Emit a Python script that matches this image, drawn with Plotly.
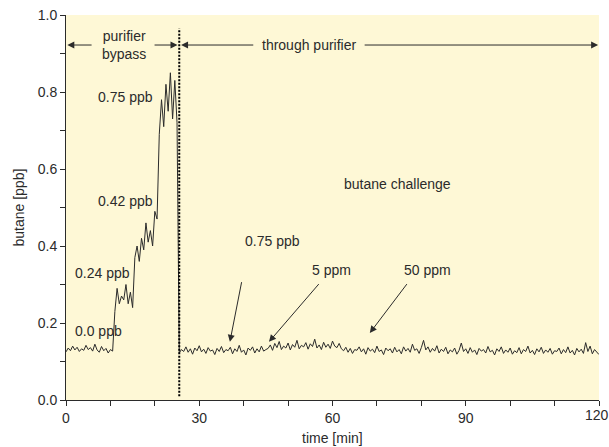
import plotly.graph_objects as go


SAMPLE_STEP = 0.5  # minutes between readings
SWITCH_TIME = 25.5  # bypass -> purifier

# butane readings [ppb], one every 0.5 min
bypass_zero = [0.125, 0.135, 0.128, 0.140, 0.130, 0.137, 0.126, 0.133, 0.129, 0.142, 0.131,
               0.136, 0.127, 0.145, 0.130, 0.124, 0.139, 0.128, 0.134, 0.122, 0.131, 0.127]
bypass_024 = [0.23, 0.29, 0.25, 0.27, 0.26, 0.30, 0.25, 0.28, 0.24]
bypass_042 = [0.37, 0.40, 0.36, 0.42, 0.39, 0.46, 0.41, 0.44, 0.40, 0.49, 0.47]
bypass_075 = [0.69, 0.78, 0.71, 0.82, 0.75, 0.85, 0.73, 0.83, 0.72]
purifier = [
    0.122, 0.131, 0.126, 0.138, 0.124, 0.133, 0.119, 0.135, 0.128, 0.141, 0.125, 0.132, 0.121, 0.136, 0.127, 0.130, 0.118, 0.134, 0.126, 0.139,
    0.123, 0.131, 0.128, 0.137, 0.120, 0.133, 0.126, 0.142, 0.124, 0.130, 0.117, 0.135, 0.129, 0.138, 0.122, 0.133, 0.125, 0.140, 0.127, 0.131,
    0.134, 0.143, 0.129, 0.147, 0.136, 0.152, 0.131, 0.140, 0.135, 0.148, 0.130, 0.144, 0.137, 0.155, 0.133, 0.142, 0.138,
    0.149, 0.132, 0.146, 0.139, 0.158, 0.135, 0.143, 0.131, 0.150, 0.137, 0.145, 0.134, 0.153, 0.140, 0.136, 0.147, 0.133,
    0.128, 0.137, 0.124, 0.134, 0.121, 0.131, 0.129, 0.138, 0.125, 0.133, 0.119, 0.136, 0.127, 0.132, 0.123, 0.140, 0.126, 0.130,
    0.118, 0.135, 0.128, 0.133, 0.122, 0.137, 0.125, 0.131, 0.120, 0.138, 0.127, 0.134, 0.124, 0.145, 0.129, 0.133, 0.121, 0.136,
    0.155, 0.130, 0.138, 0.124, 0.134, 0.127, 0.141, 0.122, 0.132, 0.126, 0.137, 0.120, 0.130, 0.125, 0.135, 0.119, 0.129, 0.148, 0.126, 0.133,
    0.121, 0.136, 0.124, 0.130, 0.118, 0.134, 0.127, 0.131, 0.122, 0.139, 0.125, 0.129, 0.117, 0.133, 0.126, 0.138, 0.121, 0.130, 0.124, 0.135,
    0.119, 0.128, 0.123, 0.136, 0.120, 0.131, 0.126, 0.140, 0.122, 0.129, 0.118, 0.133, 0.125, 0.137, 0.121, 0.130, 0.124, 0.134, 0.119, 0.128,
    0.126, 0.135, 0.120, 0.131, 0.123, 0.138, 0.122, 0.129, 0.117, 0.134, 0.125, 0.132, 0.121, 0.149, 0.126, 0.140, 0.120, 0.131, 0.124, 0.118,
]

x_ticks = [0, 30, 60, 90, 120]
y_ticks = [0.0, 0.2, 0.4, 0.6, 0.8, 1.0]

# text labels: (text, time, level)
labels = [
    ("0.75 ppb", 13.5, 0.787),
    ("0.42 ppb", 13.5, 0.517),
    ("0.24 ppb", 8.3, 0.33),
    ("0.0 ppb", 7.3, 0.179),
    ("butane challenge", 74.7, 0.561),
    ("purifier<br>bypass", 13.0, 0.922),
    ("through purifier", 54.9, 0.922),
]
# challenge arrows: (text, text time, text level, tail time, tail level, tip time, tip level)
challenges = [
    ("0.75 ppb", 46.4, 0.413, 39.6, 0.31, 36.9, 0.151),
    ("5 ppm", 59.7, 0.338, 57.2, 0.305, 45.7, 0.151),
    ("50 ppm", 81.3, 0.338, 77.0, 0.305, 68.4, 0.174),
]
# double arrows at the top: (tail time, tip time)
span_level = 0.922
spans = [(6.1, 0.3), (19.6, 25.1), (42.5, 25.9), (66.9, 119.8)]

butane = bypass_zero + bypass_024 + bypass_042 + bypass_075 + purifier
times = [i * SAMPLE_STEP for i in range(len(butane))]

FONT = "Liberation Sans, Arial, sans-serif"
INK = "#2b2b2b"

fig = go.Figure(
    data=go.Scatter(x=times, y=butane, mode="lines",
                    line=dict(color=INK, width=1), hoverinfo="skip")
)

fig.add_shape(type="line", x0=SWITCH_TIME, x1=SWITCH_TIME, y0=0.01, y1=0.965,
              line=dict(color="black", width=2, dash="2px,1.5px"))

arrow_style = dict(text="", showarrow=True, arrowhead=2, arrowsize=1.4,
                   arrowwidth=1, arrowcolor=INK, axref="x", ayref="y")

annotations = []
for text, x, y in labels:
    annotations.append(dict(x=x, y=y, text=text, showarrow=False))
for text, tx, ty, ax, ay, hx, hy in challenges:
    annotations.append(dict(x=tx, y=ty, text=text, showarrow=False))
    annotations.append(dict(x=hx, y=hy, ax=ax, ay=ay, **arrow_style))
for tail, tip in spans:
    annotations.append(dict(x=tip, y=span_level, ax=tail, ay=span_level, **arrow_style))

# last x tick label sits at the page edge, nudge it inwards
annotations.append(dict(x=x_ticks[-1], y=0, yref="paper", text=str(x_ticks[-1]),
                        showarrow=False, yanchor="top", yshift=-5, xshift=-2))

# axis titles
annotations.append(dict(x=0.5, y=-0.099, xref="paper", yref="paper", text="time [min]",
                        showarrow=False, yanchor="middle"))
annotations.append(dict(x=-0.09, y=0.5, xref="paper", yref="paper", text="butane [ppb]",
                        showarrow=False, textangle=-90, xanchor="center"))

fig.update_layout(
    width=609,
    height=447,
    margin=dict(l=66, r=10, t=15, b=47),
    paper_bgcolor="white",
    plot_bgcolor="#fef8d6",
    showlegend=False,
    font=dict(family=FONT, size=14, color=INK),
    annotations=annotations,
    xaxis=dict(
        range=[0, 120], tickvals=x_ticks,
        ticktext=[str(t) for t in x_ticks[:-1]] + [""],
        ticks="outside", ticklen=5,
        tickcolor=INK, showline=True, linecolor=INK, linewidth=1,
        showgrid=False, zeroline=False, automargin=False,
        minor=dict(dtick=10, tick0=0, ticks="outside", ticklen=5, tickcolor=INK),
    ),
    yaxis=dict(
        range=[0, 1.0], tickvals=y_ticks, tickformat=".1f", ticks="outside", ticklen=5,
        tickcolor=INK, showline=True, linecolor=INK, linewidth=1,
        showgrid=False, zeroline=False, automargin=False, ticklabeloverflow="allow",
        minor=dict(dtick=0.1, tick0=0, ticks="outside", ticklen=5, tickcolor=INK),
    ),
)

# drop the page's default body margin so the figure fills the window
fig.write_html("out.html", config={"displayModeBar": False},
               post_script="document.body.style.margin='0';document.body.style.overflow='hidden';")
